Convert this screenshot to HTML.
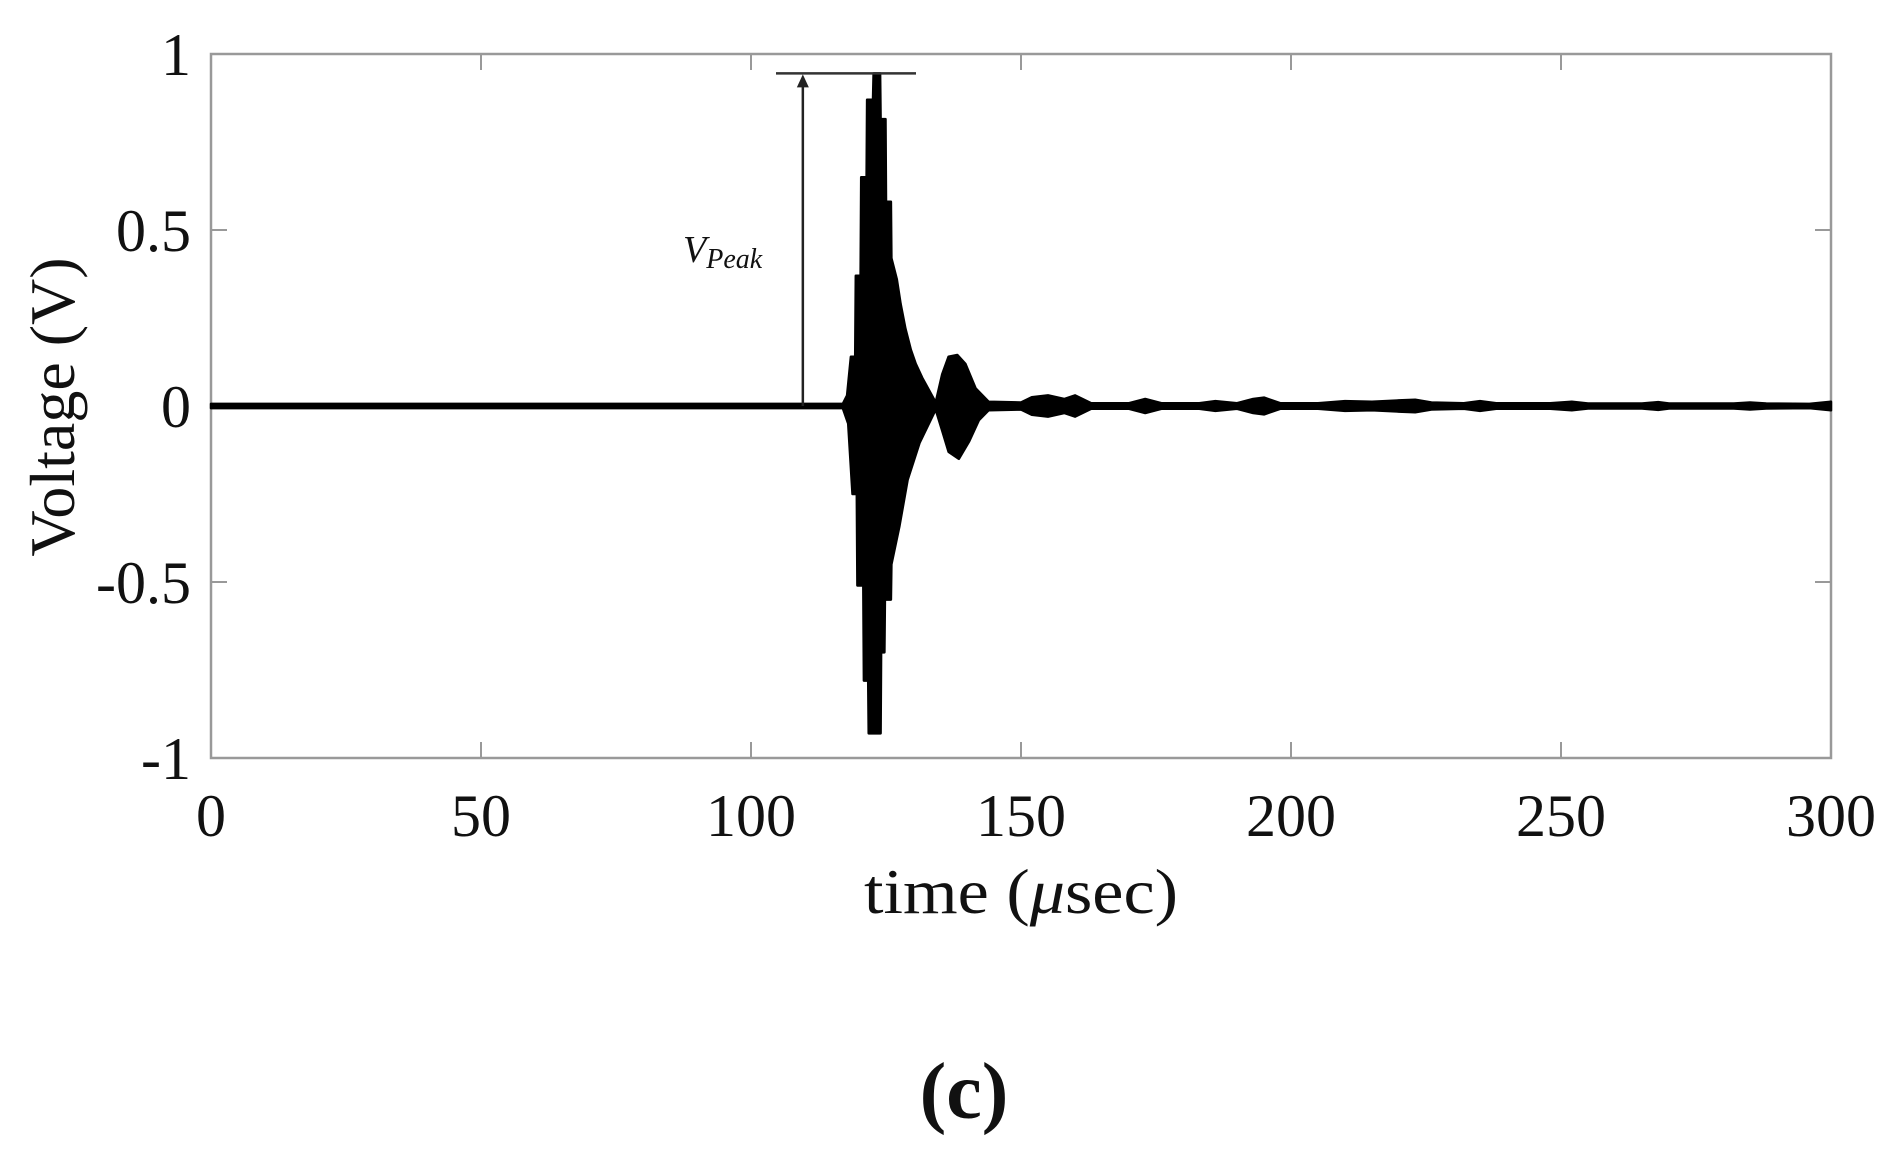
<!DOCTYPE html>
<html><head><meta charset="utf-8"><style>
html,body{margin:0;padding:0;background:#fff;}
svg{display:block;}
text{font-family:"Liberation Serif",serif;fill:#111;}
</style></head><body>
<svg id="chart" width="1895" height="1164" viewBox="0 0 1895 1164" xmlns="http://www.w3.org/2000/svg">
<g id="axes"></g>
<g id="series"></g>
<g id="annot"></g>
<text x="1021" y="913" font-size="64" text-anchor="middle" textLength="314" lengthAdjust="spacingAndGlyphs">time (<tspan font-style="italic">μ</tspan>sec)</text>
<text x="0" y="0" font-size="64" text-anchor="middle" transform="translate(74,407) rotate(-90)">Voltage (V)</text>
<text x="964" y="1118" font-size="80" font-weight="bold" text-anchor="middle">(c)</text>
</svg>
<script>
const xTicks=[0,50,100,150,200,250,300];
const yTicks=[-1,-0.5,0,0.5,1];
const yTickLabels=["-1","-0.5","0","0.5","1"];
// envelope of the signal (time in µs, volts)
const upperT=[0,117,117.8,118.5,119.3,119.4,120.3,120.4,121.4,121.5,122.6,122.7,123.9,124.0,124.9,125.0,125.9,126.0,127.0,127.7,128.6,129.6,130.5,131.7,134.2,135.4,136.6,138.2,139.7,141.6,144,150,152,155,158,160,163,170,173,176,183,186,190,193,195,198,205,210,215,220,223,226,232,235,238,248,252,255,265,268,270,282,285,288,296,300];
const upperV=[0.006,0.006,0.03,0.14,0.14,0.37,0.37,0.65,0.65,0.87,0.87,0.945,0.945,0.815,0.815,0.58,0.58,0.42,0.36,0.29,0.22,0.16,0.12,0.08,0.01,0.09,0.14,0.145,0.12,0.05,0.012,0.01,0.025,0.03,0.02,0.03,0.008,0.008,0.02,0.008,0.008,0.014,0.008,0.02,0.024,0.008,0.008,0.014,0.012,0.016,0.018,0.01,0.008,0.014,0.008,0.008,0.012,0.007,0.007,0.011,0.007,0.007,0.01,0.007,0.006,0.012];
const lowerT=[0,117,118,118.8,119.6,119.7,120.8,120.9,121.7,121.8,124.0,124.1,124.7,124.8,125.9,126.0,127.5,129,131.2,134.2,135.4,136.6,138.5,140.4,142.2,144,150,152,155,158,160,163,170,173,176,183,186,190,193,195,198,205,210,215,220,223,226,232,235,238,248,252,255,265,268,270,282,285,288,296,300];
const lowerV=[-0.006,-0.006,-0.05,-0.25,-0.25,-0.51,-0.51,-0.78,-0.78,-0.93,-0.93,-0.70,-0.70,-0.55,-0.55,-0.45,-0.34,-0.21,-0.105,-0.01,-0.07,-0.13,-0.15,-0.10,-0.04,-0.012,-0.01,-0.025,-0.03,-0.02,-0.03,-0.008,-0.008,-0.02,-0.008,-0.008,-0.014,-0.008,-0.02,-0.024,-0.008,-0.008,-0.014,-0.012,-0.016,-0.018,-0.01,-0.008,-0.014,-0.008,-0.008,-0.012,-0.007,-0.007,-0.011,-0.007,-0.007,-0.01,-0.007,-0.006,-0.012];
const peakTime=109.6;
const peakValue=0.945;

const L=211,R=1831,T=54,B=758,X0=0,X1=300,Y0=-1,Y1=1;
const xs=v=>L+(v-X0)/(X1-X0)*(R-L);
const ys=v=>B-(v-Y0)/(Y1-Y0)*(B-T);
const NS="http://www.w3.org/2000/svg";
function mk(tag,attrs,parent){const e=document.createElementNS(NS,tag);for(const k in attrs)e.setAttribute(k,attrs[k]);parent.appendChild(e);return e;}
const axes=document.getElementById('axes');
const frame=mk('rect',{x:L,y:T,width:R-L,height:B-T,fill:'none',stroke:'#999','stroke-width':2.5},axes);


xTicks.forEach(v=>{
  const x=xs(v);
  const t1=mk('line',{x1:x,y1:B,x2:x,y2:B-16,stroke:'#999','stroke-width':2},axes);
  
  
  const t2=mk('line',{x1:x,y1:T,x2:x,y2:T+16,stroke:'#999','stroke-width':2},axes);
  
  
  const lb=mk('text',{x:x,y:836,'font-size':60,'text-anchor':'middle'},axes);
  lb.textContent=String(v);
  
  
});
yTicks.forEach((v,i)=>{
  const y=ys(v);
  const t1=mk('line',{x1:L,y1:y,x2:L+16,y2:y,stroke:'#999','stroke-width':2},axes);
  
  
  const t2=mk('line',{x1:R,y1:y,x2:R-16,y2:y,stroke:'#999','stroke-width':2},axes);
  
  
  const lb=mk('text',{x:191,y:y+21,'font-size':60,'text-anchor':'end'},axes);
  lb.textContent=yTickLabels[i];
  
  
});
const ser=document.getElementById('series');
let d='';
upperT.forEach((t,i)=>{d+=(i?'L':'M')+xs(t).toFixed(1)+','+ys(upperV[i]).toFixed(1);});
for(let i=lowerT.length-1;i>=0;i--){d+='L'+xs(lowerT[i]).toFixed(1)+','+ys(lowerV[i]).toFixed(1);}
d+='Z';
const p=mk('path',{d:d,fill:'#000',stroke:'#000','stroke-width':2.5,'stroke-linejoin':'round'},ser);


const an=document.getElementById('annot');
const px=xs(peakTime),py=ys(peakValue);
const hl=mk('line',{x1:776,y1:py,x2:916,y2:py,stroke:'#333','stroke-width':2.5},an);


const vl=mk('line',{x1:px,y1:ys(0),x2:px,y2:py+10,stroke:'#222','stroke-width':2.5},an);


const ah=mk('polygon',{points:`${px-6},${py+14} ${px+6},${py+14} ${px},${py+1}`,fill:'#222'},an);


const vt=mk('text',{x:683,y:262,'font-size':38,'font-style':'italic'},an);
vt.innerHTML='V<tspan font-size="28" dy="6">Peak</tspan>';


</script>
</body></html>
